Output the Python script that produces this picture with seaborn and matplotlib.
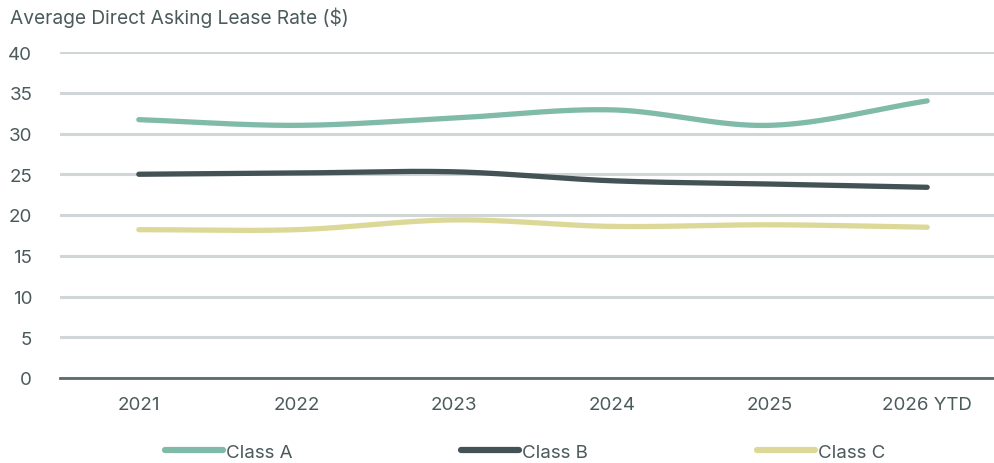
import numpy as np
import pandas as pd
import matplotlib
matplotlib.use("Agg")
import matplotlib.pyplot as plt
import seaborn as sns

years = ["2021", "2022", "2023", "2024", "2025", "2026 YTD"]
class_a = [31.7, 31.0, 31.9, 32.9, 31.0, 34.0]
class_b = [25.0, 25.15, 25.3, 24.2, 23.8, 23.4]
class_c = [18.2, 18.2, 19.4, 18.6, 18.8, 18.5]
series_names = ["Class A", "Class B", "Class C"]
y_ticks = [0, 5, 10, 15, 20, 25, 30, 35, 40]

colors = {"Class A": "#80bba9", "Class B": "#435254", "Class C": "#dcd998"}
text_color = "#4b5a5b"

sns.set_theme(style="white")
plt.rcParams["font.family"] = ["Inter", "DejaVu Sans"]


def smooth(xs, ys, n=40, tension=0.5):
    """Cardinal spline through the points, for a softened line."""
    xs = np.asarray(xs, float)
    ys = np.asarray(ys, float)
    px, py = [], []
    for i in range(len(xs) - 1):
        y0 = ys[i - 1] if i > 0 else ys[i]
        y3 = ys[i + 2] if i + 2 < len(ys) else ys[i + 1]
        m1 = tension * (ys[i + 1] - y0) / (2 if i > 0 else 1)
        m2 = tension * (y3 - ys[i]) / (2 if i + 2 < len(ys) else 1)
        t = np.linspace(0, 1, n, endpoint=False)
        h00 = 2 * t**3 - 3 * t**2 + 1
        h10 = t**3 - 2 * t**2 + t
        h01 = -2 * t**3 + 3 * t**2
        h11 = t**3 - t**2
        px.append(xs[i] + t * (xs[i + 1] - xs[i]))
        py.append(h00 * ys[i] + h10 * m1 * 2 + h01 * ys[i + 1] + h11 * m2 * 2)
    px.append([xs[-1]])
    py.append([ys[-1]])
    return np.concatenate(px), np.concatenate(py)


x_pos = np.arange(len(years))
frames = []
for name, vals in zip(series_names, [class_a, class_b, class_c]):
    sx, sy = smooth(x_pos, vals)
    frames.append(pd.DataFrame({"x": sx, "value": sy, "series": name}))
df = pd.concat(frames, ignore_index=True)

fig = plt.figure(figsize=(9.94, 4.64), dpi=100)
ax = fig.add_axes([60 / 994, 1 - 379 / 464, 946 / 994, (379 - 53) / 464])

sns.lineplot(data=df, x="x", y="value", hue="series", palette=colors,
             linewidth=3.8, ax=ax, legend=False, sort=False,
             solid_capstyle="round")

ax.set_xlim(-0.5, len(years) - 0.5)
ax.set_ylim(0, 40)
ax.set_yticks(y_ticks)
ax.set_xticks(x_pos)
ax.set_xticklabels(years)
ax.grid(axis="y", color="#d0d6d8", linewidth=2.2)
ax.set_axisbelow(True)
for s in ["top", "right", "left"]:
    ax.spines[s].set_visible(False)
ax.spines["bottom"].set_color("#5d6a6b")
ax.spines["bottom"].set_linewidth(2)
ax.tick_params(axis="both", length=0, labelsize=13.5, colors=text_color)
ax.tick_params(axis="x", pad=13)
ax.tick_params(axis="y", pad=20)
ax.set_xlabel("")
ax.set_ylabel("")

fig.text(10 / 994, 1 - 18 / 464, "Average Direct Asking Lease Rate ($)",
         fontsize=13.8, color=text_color, va="center", ha="left")

handles = [plt.Line2D([0], [0], color=colors[n], linewidth=4.5,
                      solid_capstyle="round") for n in series_names]
leg = fig.legend(handles, series_names, loc="center", ncol=3,
                 bbox_to_anchor=(525 / 994, 1 - 453 / 464), frameon=False,
                 fontsize=13.5, handlelength=3.1, handletextpad=0.15,
                 columnspacing=9.0, labelcolor=text_color)

fig.savefig("out.png", dpi=100)
